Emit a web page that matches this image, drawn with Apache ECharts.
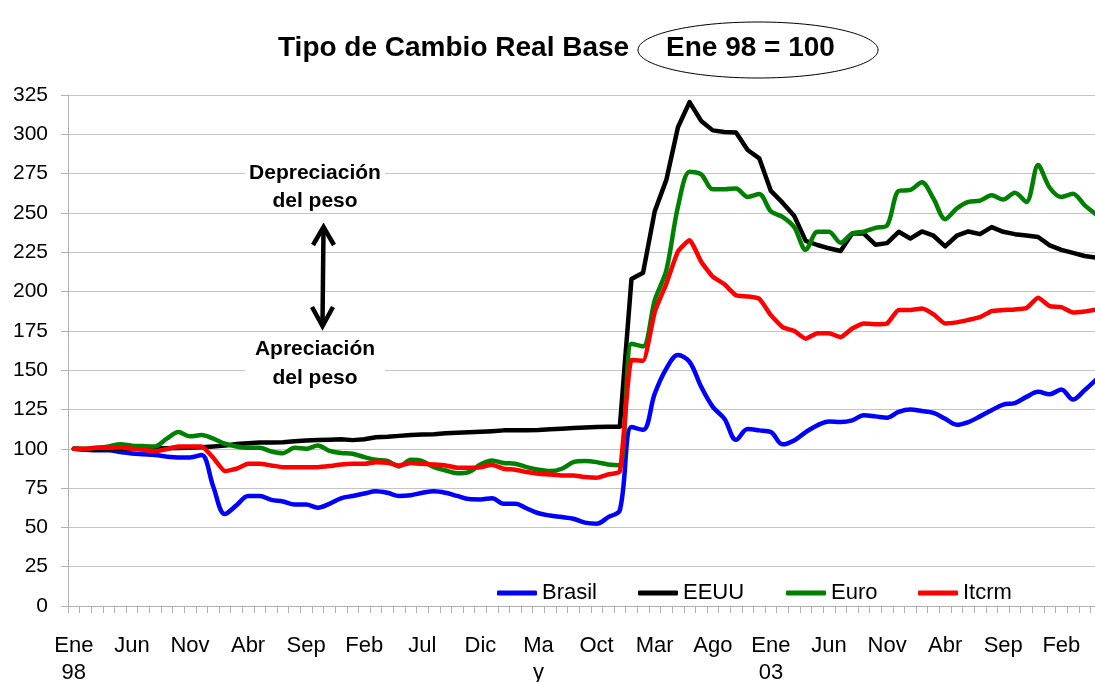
<!DOCTYPE html>
<html>
<head>
<meta charset="utf-8">
<script src="https://cdn.jsdelivr.net/npm/echarts@6/dist/echarts.min.js"></script>
<style>
html,body{margin:0;padding:0;background:#fff;}
#chart{width:1095px;height:682px;}
</style>
</head>
<body>
<div id="chart"></div>
<script>
// Monthly categories, Ene 1998 .. May 2005
const categories = [
  'Ene 98','Feb 98','Mar 98','Abr 98','May 98','Jun 98','Jul 98','Ago 98','Sep 98','Oct 98','Nov 98','Dic 98',
  'Ene 99','Feb 99','Mar 99','Abr 99','May 99','Jun 99','Jul 99','Ago 99','Sep 99','Oct 99','Nov 99','Dic 99',
  'Ene 00','Feb 00','Mar 00','Abr 00','May 00','Jun 00','Jul 00','Ago 00','Sep 00','Oct 00','Nov 00','Dic 00',
  'Ene 01','Feb 01','Mar 01','Abr 01','May 01','Jun 01','Jul 01','Ago 01','Sep 01','Oct 01','Nov 01','Dic 01',
  'Ene 02','Feb 02','Mar 02','Abr 02','May 02','Jun 02','Jul 02','Ago 02','Sep 02','Oct 02','Nov 02','Dic 02',
  'Ene 03','Feb 03','Mar 03','Abr 03','May 03','Jun 03','Jul 03','Ago 03','Sep 03','Oct 03','Nov 03','Dic 03',
  'Ene 04','Feb 04','Mar 04','Abr 04','May 04','Jun 04','Jul 04','Ago 04','Sep 04','Oct 04','Nov 04','Dic 04',
  'Ene 05','Feb 05','Mar 05','Abr 05','May 05'
];

// Labels shown every 5 months
const tickLabels = ['Ene\n98','Jun','Nov','Abr','Sep','Feb','Jul','Dic','Ma\ny','Oct',
                    'Mar','Ago','Ene\n03','Jun','Nov','Abr','Sep','Feb'];

const brasil = [
  100,99.5,99,99,98,97,96.5,96,95,94.5,94.5,96,
  76,58.5,64,70,70,67.5,66.5,64.5,64.5,62.5,65,68.5,
  70,71.5,73,72,70,70.5,72,73,72,70,68,67.8,
  68.5,65,65,62,59,57.5,56.6,55.5,53,52.3,56.5,61,
  113.8,112.1,135,151,159.6,155.3,139.4,126.6,119.1,105.7,112.5,111.7,
  110.6,102.8,105.3,110.6,114.9,117.4,117,118.1,121.3,120.6,119.8,123.4,
  124.9,124,122.8,119.1,115.3,117,120.6,124.5,128.1,129.1,133,136.2,
  134.7,137.7,131.3,137.2,144
];

const eeuu = [
  100,99.6,99.5,99.7,100,100.2,100.2,100.3,100.4,100.5,100.7,101,
  101.5,102,103,103.5,104,104,104.2,104.8,105.2,105.5,105.8,106,
  105.5,106,107.3,107.6,108.2,108.8,109,109.3,109.8,110.2,110.5,110.8,
  111.2,111.7,111.8,111.8,112,112.4,112.8,113.2,113.5,113.8,114,114,
  208,212,251,271,304.5,320.5,308.5,302.5,301.5,301.2,290,284.7,
  264,256.5,248.2,232.2,229.6,227.5,225.8,236.9,236.9,229.8,230.8,238,
  233.7,238.2,235.5,228.7,235.5,238.2,236.5,241,238,236.5,235.6,234.7,
  229.4,226.5,224.6,222.6,221.6
];

const euro = [
  100,100,100.6,101.5,102.8,102,101.7,101.5,106.4,110.6,107.9,108.7,
  106.4,103.2,101.5,100.6,100.6,98.3,97.2,100.6,100,102.1,98.7,97.3,
  96.8,94.7,93,92.2,88.8,93,92.2,88.3,86.2,84.5,85.2,90,
  92.6,90.9,90.5,88.3,86.7,85.8,87.3,91.5,92.2,91.5,90,89.5,
  166.8,165.1,194.4,213.5,253.9,276.2,274.5,265,265,265.6,260.2,262,
  251,247.5,241,226.5,238,238,231,236.9,238,240.5,242,264,
  264.6,269.5,259,246,252.8,257,257.8,261.2,258.5,262.8,257,280.4,
  266,260.2,262.2,255,249
];

const itcrm = [
  100,100,100.6,100.6,101,100,99.4,98.5,99.8,101.5,101.5,101.5,
  94.3,85.8,87.3,90.4,90.4,89.4,88.3,88.3,88.3,88.3,89,90,
  90.4,90.4,91.5,91.1,89.4,90.9,90.4,90,89.4,87.9,87.9,88.3,
  89.8,87.3,86.7,85.2,84.1,83.7,83,83,82,81.6,83.7,85.5,
  156.5,156,187,205,225.5,232.6,219,209.5,204.6,197.6,196.9,195.4,
  185,177.4,175,170,173.5,173.5,171,176.5,179.7,179.2,179.7,188.2,
  188.2,189.2,185.5,179.7,180.4,182,183.7,187.6,188.2,188.6,189.5,196,
  190.7,190.1,186.6,187.3,188.6
];

const FONT = '"Liberation Sans", Arial, sans-serif';

const chart = echarts.init(document.getElementById('chart'), null, {renderer: 'canvas'});

function lineSeries(name, data, color, smooth) {
  return {
    name: name, type: 'line', data: data, symbol: 'none', smooth: smooth,
    lineStyle: {color: color, width: 4.5, cap: 'round', join: 'round'},
    itemStyle: {color: color},
    emphasis: {disabled: true}
  };
}

function legendAt(name, left) {
  return {
    data: [name], left: left, top: 582, padding: 0, itemWidth: 40, itemHeight: 5,
    icon: 'roundRect', selectedMode: false,
    textStyle: {fontFamily: FONT, fontSize: 22, color: '#000'}
  };
}

function annot(text, y) {
  return {type: 'text', x: 315, y: y, z: 60,
    style: {text: text, fill: '#000', font: 'bold 21px ' + FONT, textAlign: 'center',
            textVerticalAlign: 'middle', verticalAlign: 'middle'}};
}

const option = {
  animation: false,
  backgroundColor: '#fff',
  grid: {left: 68, top: 95, width: 1034, height: 511, containLabel: false, outerBoundsMode: 'none'},
  xAxis: {
    type: 'category', data: categories, boundaryGap: true,
    axisLine: {show: true, lineStyle: {color: '#b0b0b0', width: 1}},
    axisTick: {show: true, interval: 0, length: 7, lineStyle: {color: '#b0b0b0'}},
    axisLabel: {
      interval: 0, margin: 26, color: '#000', fontFamily: FONT, fontSize: 22, lineHeight: 27,
      formatter: function (v, i) { return i % 5 === 0 ? (tickLabels[i / 5] || '') : ''; }
    },
    splitLine: {show: false}
  },
  yAxis: {
    type: 'value', min: 0, max: 325, interval: 25,
    axisLine: {show: true, lineStyle: {color: '#b0b0b0', width: 1}},
    axisTick: {show: true, length: 7, lineStyle: {color: '#b0b0b0'}},
    axisLabel: {margin: 20, color: '#000', fontFamily: FONT, fontSize: 21},
    splitLine: {show: true, lineStyle: {color: '#c4c4c4', width: 1}}
  },
  legend: [
    legendAt('Brasil', 497),
    legendAt('EEUU', 638),
    legendAt('Euro', 786),
    legendAt('Itcrm', 918)
  ],
  series: [
    lineSeries('Brasil', brasil, '#0000ff', 0.35),
    lineSeries('EEUU', eeuu, '#000000', false),
    lineSeries('Euro', euro, '#008000', 0.3),
    lineSeries('Itcrm', itcrm, '#ff0000', 0.15)
  ],
  graphic: [
    {type: 'text', left: 278, top: 34, z: 60, style: {text: 'Tipo de Cambio Real Base', fill: '#000', font: 'bold 28px ' + FONT}},
    {type: 'ellipse', z: 60, shape: {cx: 758, cy: 50, rx: 120, ry: 28}, style: {fill: 'none', stroke: '#000', lineWidth: 1}},
    {type: 'text', left: 666, top: 34, z: 60, style: {text: 'Ene 98 = 100', fill: '#000', font: 'bold 28px ' + FONT}},
    {type: 'rect', z: 55, shape: {x: 245, y: 160, width: 140, height: 50}, style: {fill: '#fff'}},
    {type: 'rect', z: 55, shape: {x: 245, y: 336, width: 140, height: 56}, style: {fill: '#fff'}},
    annot('Depreciación', 173),
    annot('del peso', 201),
    annot('Apreciación', 349),
    annot('del peso', 378),
    {type: 'line', z: 60, shape: {x1: 323.5, y1: 229, x2: 322.5, y2: 324}, style: {stroke: '#000', lineWidth: 4.5}},
    {type: 'polyline', z: 60, shape: {points: [[313, 245], [323.5, 227], [334, 245]]}, style: {stroke: '#000', lineWidth: 4.5, fill: null, lineJoin: 'miter'}},
    {type: 'polyline', z: 60, shape: {points: [[312, 307], [322.5, 326], [333, 307]]}, style: {stroke: '#000', lineWidth: 4.5, fill: null, lineJoin: 'miter'}}
  ]
};

chart.setOption(option);
</script>
</body>
</html>
